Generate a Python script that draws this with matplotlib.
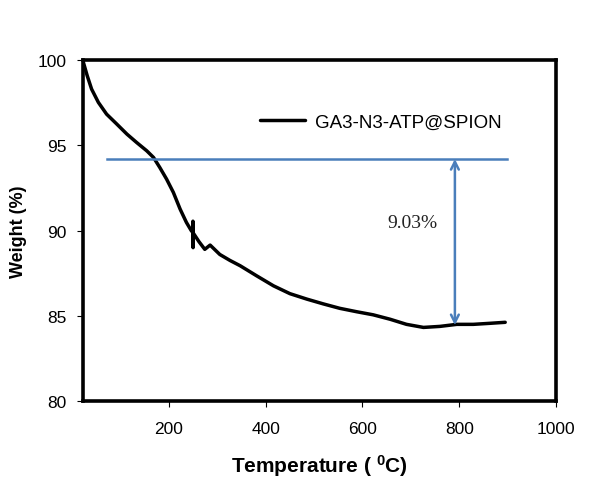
import numpy as np
import matplotlib
matplotlib.use("Agg")
import matplotlib.pyplot as plt

plt.rcParams['font.family'] = ['Liberation Sans', 'DejaVu Sans']
plt.rcParams['mathtext.fontset'] = 'custom'
plt.rcParams['mathtext.bf'] = 'Liberation Sans:bold'
plt.rcParams['mathtext.rm'] = 'Liberation Sans'

# TGA curve
temp = [22, 23, 31, 40, 54, 71, 92, 113, 133, 154, 168, 181, 195, 209, 223,
        236, 246, 249, 249.5, 249.8, 250.3, 262, 274, 285, 305, 326, 347, 381,
        416, 450, 485, 519, 553, 588, 622, 657, 691, 726, 760, 795, 829, 863,
        895]
weight = [100, 99.87, 99.08, 98.3, 97.52, 96.83, 96.25, 95.66, 95.17, 94.68,
          94.29, 93.7, 93.02, 92.24, 91.26, 90.48, 90.0, 89.9, 90.55, 89.0,
          89.85, 89.35, 88.9, 89.15, 88.6, 88.25, 87.94, 87.35, 86.76, 86.3,
          85.98, 85.7, 85.44, 85.24, 85.06, 84.8, 84.5, 84.32, 84.38, 84.5,
          84.5, 84.56, 84.62]
series_name = "GA3-N3-ATP@SPION"

# weight-loss marker
ref_level = 94.2
ref_start, ref_end = 72, 899
arrow_x = 791
arrow_low = 84.45
loss_text = "9.03%"
xticks = [200, 400, 600, 800, 1000]
yticks = [80, 85, 90, 95, 100]

fig = plt.figure(figsize=(6.05, 4.85), dpi=100)
ax = fig.add_axes([0.137, 0.171, 0.782, 0.703])

ax.plot(temp, weight, color="black", lw=2.5, label=series_name,
        solid_joinstyle="round", solid_capstyle="round")
ax.plot([ref_start, ref_end], [ref_level, ref_level], color="#4a7ebb", lw=1.8)
ax.annotate("", xy=(arrow_x, arrow_low), xytext=(arrow_x, ref_level),
            arrowprops=dict(arrowstyle="<->", color="#4a7ebb", lw=1.8,
                            shrinkA=0, shrinkB=0, mutation_scale=14))
ax.text(704, 90.5, loss_text, family="Liberation Serif", fontsize=14,
        ha="center", va="center", color="#222222")

ax.set_xlim(22, 1000)
ax.set_ylim(80, 100)
ax.set_xticks(xticks)
ax.set_yticks(yticks)
ax.tick_params(labelsize=12.5, length=4, width=0.8, direction="out")
ax.tick_params(axis="x", pad=10)
ax.tick_params(axis="y", pad=8)
for s in ax.spines.values():
    s.set_linewidth(2.6)

ax.set_xlabel(r"Temperature ( $\mathbf{^{0}C}$)", fontsize=15,
              fontweight="bold", labelpad=12)
ax.set_ylabel("Weight (%)", fontsize=13, fontweight="bold", labelpad=7)

ax.legend(loc="center left", bbox_to_anchor=(0.374, 0.818), frameon=False,
          borderpad=0, borderaxespad=0, handlelength=2.4, handletextpad=0.55,
          fontsize=13.5)

fig.savefig("out.png", dpi=100)
